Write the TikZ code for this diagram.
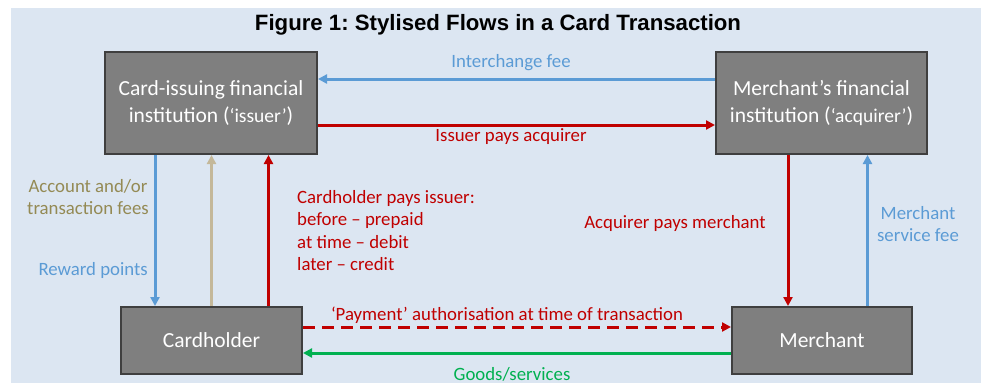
\documentclass[tikz,border=0pt]{standalone}
\usepackage{fontspec}
\setmainfont{Carlito}
\newfontfamily\titlefont{Liberation Sans}
\usetikzlibrary{arrows.meta}
\frenchspacing
\definecolor{bgblue}{HTML}{DCE6F2}
\definecolor{boxgray}{HTML}{7F7F7F}
\definecolor{boxline}{HTML}{3F3F3F}
\definecolor{flowblue}{HTML}{5B9BD5}
\definecolor{flowred}{HTML}{C00000}
\definecolor{flowgreen}{HTML}{00B050}
\definecolor{flowtan}{HTML}{C4B89A}
\definecolor{olivetext}{HTML}{948A54}
\tikzset{
  box/.style={draw=boxline, line width=2pt, fill=boxgray, text=white, align=center,
    inner sep=0pt, font=\fontsize{21.5}{27}\selectfont},
  flow/.style={line width=3pt, -{Triangle[length=9pt,width=9pt]}},
  lab/.style={font=\fontsize{18.8}{22.3}\selectfont, inner sep=0pt},
}
\begin{document}
\begin{tikzpicture}[x=1pt,y=-1pt]
\fill[white] (0,0) rectangle (981,383);
\useasboundingbox (0,0) rectangle (981,383);
\fill[bgblue] (11,8) rectangle (981,383);

\node[font=\titlefont\bfseries\fontsize{22.2}{26}\selectfont, inner sep=0pt] (title) at (498,25) {Figure 1: Stylised Flows in a Card Transaction};

\node[box, minimum width=212pt, minimum height=102pt] (iss) at (211,103) {Card-issuing financial\\institution ({\fontsize{19.5}{27}\selectfont`issuer'})};
\node[box, minimum width=211pt, minimum height=102pt] (acq) at (821.5,103) {Merchant's financial\\institution ({\fontsize{19.5}{27}\selectfont`acquirer'})};
\node[box, minimum width=181pt, minimum height=67pt] (ch) at (211.5,340.5) {Cardholder};
\node[box, minimum width=180pt, minimum height=67pt] (mer) at (822,340.5) {Merchant};

% top horizontal flows
\draw[flow, flowblue] ([yshift=24pt]acq.west) -- ([yshift=24pt]iss.east);
\draw[flow, flowred] ([yshift=-22pt]iss.east) -- ([yshift=-22pt]acq.west);
% left verticals
\draw[flow, flowblue] ([xshift=-56pt]iss.south) -- ([xshift=-56pt]iss.south |- ch.north);
\draw[flow, flowtan] (ch.north) -- (ch.north |- iss.south);
\draw[flow, flowred] ([xshift=57pt]ch.north) -- ([xshift=57pt]ch.north |- iss.south);
% right verticals
\draw[flow, flowred] ([xshift=-33.5pt]acq.south) -- ([xshift=-33.5pt]acq.south |- mer.north);
\draw[flow, flowblue] ([xshift=45.5pt]mer.north) -- ([xshift=45.5pt]mer.north |- acq.south);
% bottom horizontal flows
\draw[flow, flowred, dash pattern=on 12pt off 7pt] ([yshift=13.5pt]ch.east) -- ([yshift=13.5pt]mer.west);
\draw[flow, flowgreen] ([yshift=-12.5pt]mer.west) -- ([yshift=-12.5pt]ch.east);

% labels
\node[lab, text=flowblue] (l1) at (511,63) {Interchange fee};
\node[lab, text=flowred] (l2) at (511,137) {Issuer pays acquirer};
\node[lab, text=olivetext, align=center] (l3) at (88,197) {Account and/or\\transaction fees};
\node[lab, text=flowblue, anchor=east] (l4) at (148,270) {Reward points};
\node[lab, text=flowred, align=left, anchor=west] (l5) at (297,230.5) {Cardholder pays issuer:\\before -- prepaid\\at time -- debit\\later -- credit};
\node[lab, text=flowred] (l6) at (675,223) {Acquirer pays merchant};
\node[lab, text=flowblue, align=center] (l7) at (918,224) {Merchant\\service fee};
\node[lab, text=flowred] (l8) at (507,315) {`Payment' authorisation at time of transaction};
\node[lab, text=flowgreen] (l9) at (512,374) {Goods/services};
\end{tikzpicture}
\end{document}
